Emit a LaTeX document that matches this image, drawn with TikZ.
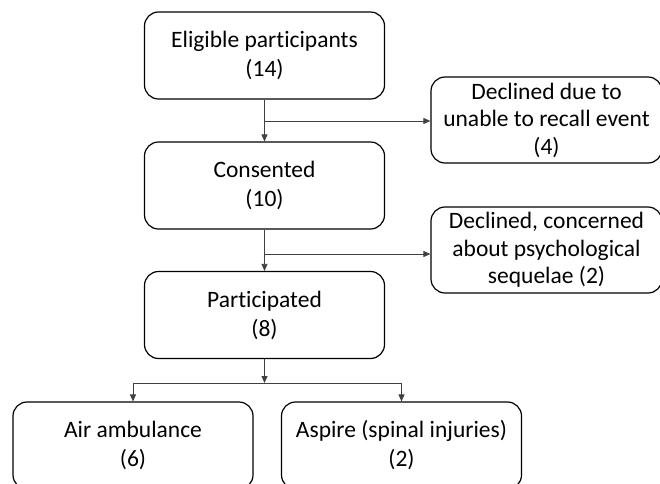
\documentclass[tikz,border=0pt]{standalone}
\usepackage{fontspec}
\setmainfont{Carlito}[Ligatures=NoCommon]
\usetikzlibrary{arrows.meta}

\begin{document}
\begin{tikzpicture}[x=1pt,y=-1pt,
	box/.style={draw,rounded corners=14pt,line width=1.2pt,align=center,inner sep=0pt,
		minimum width=240pt,minimum height=87pt,font=\fontsize{23.5}{29}\selectfont},
	sidebox/.style={box,minimum width=231pt,minimum height=86pt,font=\fontsize{23.5}{27.5}\selectfont},
	link/.style={-{Triangle[length=7pt,width=6pt]},line width=0.8pt,draw=black!75}]
	\useasboundingbox (0,0) rectangle (660,483);
	\clip (0,0) rectangle (660,483);
	\node[box] (elig) at (264.5,55.5) {Eligible participants\\(14)};
	\node[box] (consent) at (264.5,185.5) {Consented\\(10)};
	\node[box] (partic) at (264.5,315) {Participated\\(8)};
	\node[sidebox] (recall) at (546.5,120) {Declined due to\\unable to recall event\\(4)};
	\node[sidebox] (psych) at (546.5,250) {Declined, concerned\\about psychological\\sequelae (2)};
	\node[box] (air) at (133,445.5) {Air ambulance\\(6)};
	\node[box] (aspire) at (401.5,445.5) {Aspire (spinal injuries)\\(2)};
	\coordinate (tap1) at (264.5,121);
	\coordinate (tap2) at (264.5,254);
	\coordinate (fork) at (264.5,383);
	\draw[link] (elig) -- (consent);
	\draw[link] (tap1) -- (tap1 -| recall.west);
	\draw[link] (consent) -- (partic);
	\draw[link] (tap2) -- (tap2 -| psych.west);
	\draw[link] (partic) -- (fork);
	\draw[link] (fork) -| (air);
	\draw[link] (fork) -| (aspire);
\end{tikzpicture}
\end{document}
